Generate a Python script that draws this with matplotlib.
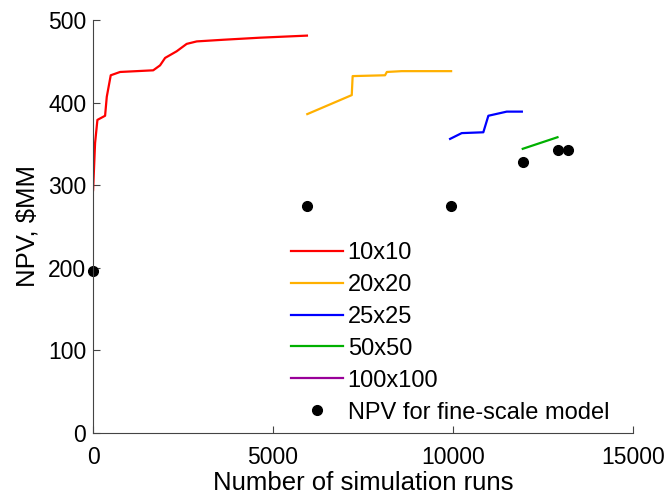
import matplotlib
matplotlib.use("Agg")
import matplotlib.pyplot as plt

plt.rcParams['font.family'] = ['Liberation Sans', 'DejaVu Sans']

# 10x10
x_10 = [0, 55, 120, 333, 380, 490, 750, 1670, 1860, 2000, 2320, 2600, 2880, 3620, 4640, 5940]
y_10 = [294, 351, 379, 384, 407, 433, 437, 439, 445, 454, 462, 471, 474, 476, 478.5, 481]
# 20x20
x_20 = [5950, 7185, 7210, 8110, 8160, 8575, 9945]
y_20 = [386, 409, 432, 433, 437, 438, 438]
# 25x25
x_25 = [9917, 10240, 10840, 10980, 11490, 11910]
y_25 = [356, 363, 364, 384, 389, 389]
# 50x50
x_50 = [11935, 12900]
y_50 = [344, 358]
# 100x100 (not visible in plot)
x_100 = []
y_100 = []
# fine-scale NPV
x_fine = [0, 5940, 9945, 11935, 12925, 13200]
y_fine = [196, 275, 275, 328, 342, 343]

series_labels = ['10x10', '20x20', '25x25', '50x50', '100x100']
series_colors = ['#FF0000', '#FFB000', '#0000FF', '#00B000', '#990099']
fine_label = 'NPV for fine-scale model'

fig = plt.figure(figsize=(6.65, 4.98), dpi=100)
ax = fig.add_axes([0.14, 0.1305, 0.812, 0.8295])

for xs, ys, lab, col in zip([x_10, x_20, x_25, x_50, x_100],
                            [y_10, y_20, y_25, y_50, y_100],
                            series_labels, series_colors):
    ax.plot(xs, ys, color=col, lw=1.6, label=lab)
ax.plot(x_fine, y_fine, 'o', color='black', ms=7, label=fine_label, clip_on=False)

ax.set_xlim(0, 15000)
ax.set_ylim(0, 500)
ax.set_xticks([0, 5000, 10000, 15000])
ax.set_yticks([0, 100, 200, 300, 400, 500])
ax.spines['top'].set_visible(False)
ax.spines['right'].set_visible(False)
ax.spines['left'].set_color('#444444')
ax.spines['bottom'].set_color('#444444')
ax.tick_params(direction='in', length=5, labelsize=16.5, color='#444444')
ax.tick_params(axis='x', pad=9)
ax.tick_params(axis='y', pad=5)
ax.set_xlabel('Number of simulation runs', fontsize=18.5, labelpad=2)
ax.set_ylabel('NPV, \\$MM', fontsize=18.5, labelpad=6)

leg = ax.legend(loc='upper left', bbox_to_anchor=(291/665, 1 - 242/498),
                bbox_transform=fig.transFigure, frameon=False, fontsize=17,
                handlelength=2.2, handletextpad=0.2, labelspacing=0.42,
                borderpad=0, borderaxespad=0)

fig.savefig('out.png', dpi=100)
